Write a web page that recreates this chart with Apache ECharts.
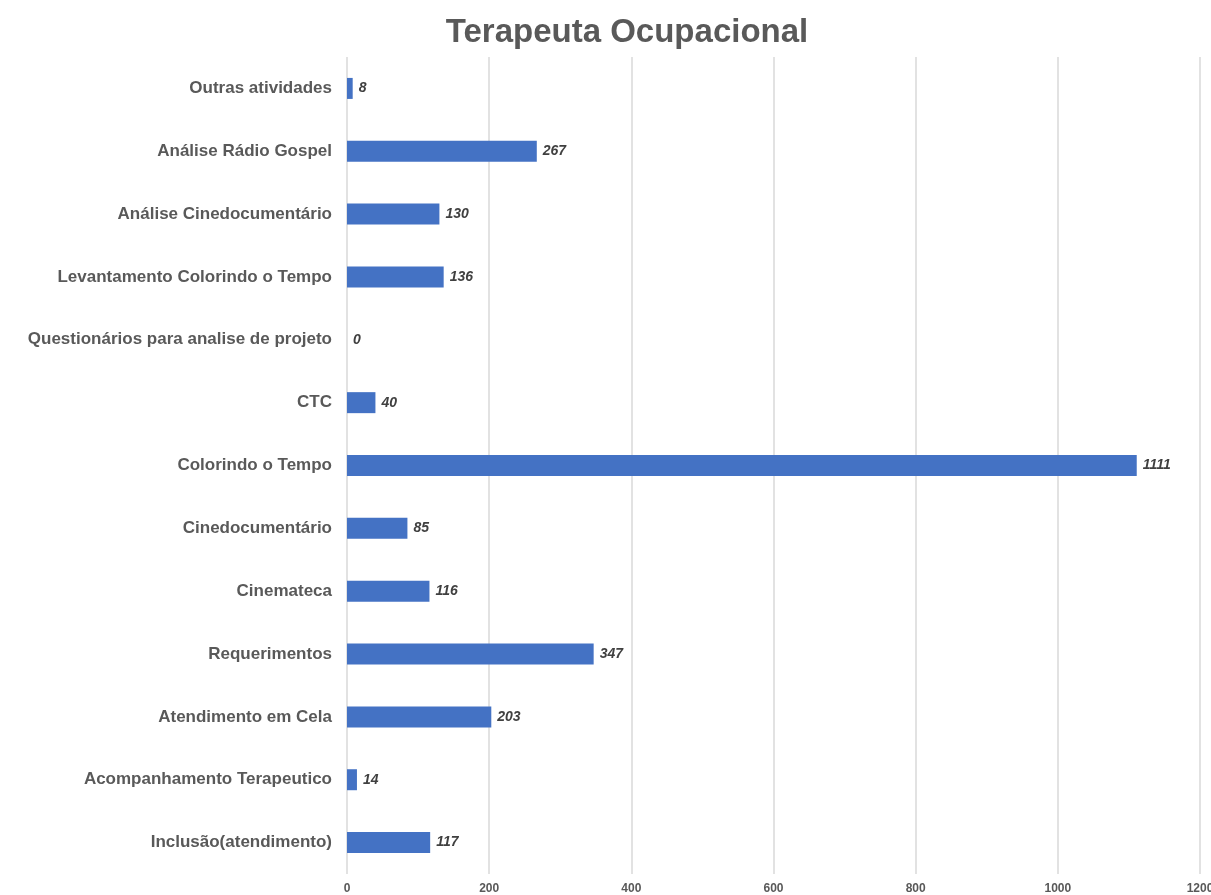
<!DOCTYPE html>
<html>
<head>
<meta charset="utf-8">
<script src="https://cdn.jsdelivr.net/npm/echarts@6/dist/echarts.min.js"></script>
<style>
    html, body { margin: 0; padding: 0; background: #fff; }
    #chart { width: 1211px; height: 895px; }
</style>
</head>
<body>
<div id="chart"></div>
<script>
var categories = [
    'Inclusão(atendimento)',
    'Acompanhamento Terapeutico',
    'Atendimento em Cela',
    'Requerimentos',
    'Cinemateca',
    'Cinedocumentário',
    'Colorindo o Tempo',
    'CTC',
    'Questionários para analise de projeto',
    'Levantamento Colorindo o Tempo',
    'Análise Cinedocumentário',
    'Análise Rádio Gospel',
    'Outras atividades'
];
var values = [117, 14, 203, 347, 116, 85, 1111, 40, 0, 136, 130, 267, 8];
var xTicks = [0, 200, 400, 600, 800, 1000, 1200];

!function(){
    var myChart = echarts.init(document.getElementById('chart'));
    var font = 'Liberation Sans, Arial, sans-serif';
    var option = {
        title: {
            text: 'Terapeuta Ocupacional',
            left: 622,
            top: 11,
            textAlign: 'center',
            textStyle: {
                fontFamily: font,
                fontSize: 33,
                fontWeight: 'bold',
                color: '#595959'
            }
        },
        grid: {
            left: 347,
            right: 11,
            top: 57,
            bottom: 21,
            outerBoundsMode: 'none'
        },
        xAxis: {
            type: 'value',
            min: xTicks[0],
            max: xTicks[xTicks.length - 1],
            interval: 200,
            axisLine: { show: false },
            axisTick: { show: false },
            splitLine: { lineStyle: { color: '#d9d9d9', width: 1.5 } },
            axisLabel: {
                margin: 9,
                fontFamily: font,
                fontSize: 12,
                fontWeight: 'bold',
                color: '#595959',
                formatter: function (v) { return String(v); }
            }
        },
        yAxis: {
            type: 'category',
            data: categories,
            axisLine: { show: false },
            axisTick: { show: false },
            axisLabel: {
                margin: 15,
                fontFamily: font,
                fontSize: 17,
                fontWeight: 'bold',
                color: '#595959'
            }
        },
        series: [{
            type: 'bar',
            data: values,
            barWidth: 21,
            itemStyle: { color: '#4472C4' },
            label: {
                show: true,
                position: 'right',
                distance: 6,
                fontFamily: font,
                fontSize: 14,
                fontWeight: 'bold',
                fontStyle: 'italic',
                color: '#404040'
            }
        }]
    };
    myChart.setOption(option);
}.call()
</script>
</body>
</html>
